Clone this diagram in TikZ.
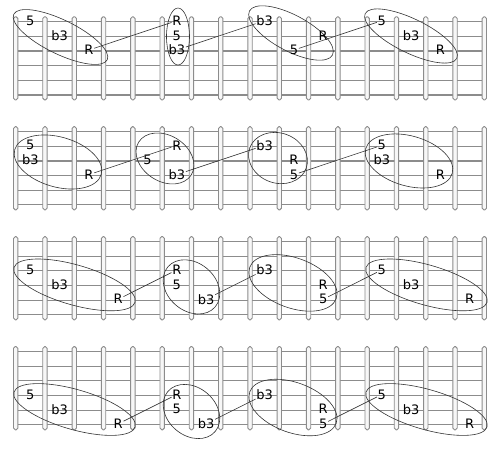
\documentclass[tikz,border=0pt]{standalone}
\usepackage{fontspec}
\setmainfont{DejaVu Sans}
\usetikzlibrary{shapes.geometric}

\definecolor{wire}{gray}{0.55}
\definecolor{metal}{gray}{0.97}
\definecolor{pen}{gray}{0.2}

\tikzset{
	string/.style={draw=wire, line width=1.1pt},
	fretbar/.style={draw=wire, fill=metal, line width=0.9pt, rounded corners=1.8pt},
	ring/.style={ellipse, draw=pen, line width=0.6pt, inner sep=0pt},
	note/.style={font=\fontsize{13pt}{15pt}\selectfont, inner sep=0.6pt, yshift=1pt},
	link/.style={draw=pen, line width=0.6pt}
}

% one neck: six strings, seventeen frets
\newcommand\neck{%
	\foreach \j in {0,...,5} \draw[string] (0,\j) -- (16,\j);
	\foreach \i in {0,...,16} \draw[fretbar] (\i-0.075,-0.34) rectangle (\i+0.075,5.34);
}

\begin{document}
\begin{tikzpicture}[x=29.29pt, y=-14.66pt]
	\useasboundingbox (-0.536,-1.480) rectangle (16.535,29.216);

	% neck 1
	\begin{scope}
		\neck
		\node[ring, minimum width=104pt, minimum height=34pt, rotate=-26] (A1) at (1.53,1.044) {};
		\node[ring, minimum width=23pt, minimum height=57pt] (A2) at (5.541,1.01) {};
		\node[ring, minimum width=94pt, minimum height=36pt, rotate=-28] (A3) at (9.399,0.771) {};
		\node[ring, minimum width=102pt, minimum height=34pt, rotate=-26] (A4) at (13.496,0.975) {};
		\node[note] (A1f) at (0.5,0) {5};
		\node[note] (A1t) at (1.5,1) {b3};
		\node[note] (A1r) at (2.5,2) {R};
		\node[note] (A2r) at (5.5,0) {R};
		\node[note] (A2f) at (5.5,1) {5};
		\node[note] (A2t) at (5.5,2) {b3};
		\node[note] (A3t) at (8.5,0) {b3};
		\node[note] (A3r) at (10.5,1) {R};
		\node[note] (A3f) at (9.5,2) {5};
		\node[note] (A4f) at (12.5,0) {5};
		\node[note] (A4t) at (13.5,1) {b3};
		\node[note] (A4r) at (14.5,2) {R};
		\draw[link] (A1r) -- (A2r) (A2t) -- (A3t) (A3f) -- (A4f);
	\end{scope}

	% neck 2
	\begin{scope}[shift={(0,7.5)}]
		\neck
		\node[ring, minimum width=90pt, minimum height=50pt, rotate=-16] (B1) at (1.444,2.07) {};
		\node[ring, minimum width=62pt, minimum height=46pt, rotate=-32] (B2) at (5.097,1.83) {};
		\node[ring, minimum width=60pt, minimum height=50pt, rotate=-20] (B3) at (8.955,1.80) {};
		\node[ring, minimum width=90pt, minimum height=50pt, rotate=-16] (B4) at (13.428,2.0) {};
		\node[note] (B1f) at (0.5,1) {5};
		\node[note] (B1t) at (0.5,2) {b3};
		\node[note] (B1r) at (2.5,3) {R};
		\node[note] (B2r) at (5.5,1) {R};
		\node[note] (B2f) at (4.5,2) {5};
		\node[note] (B2t) at (5.5,3) {b3};
		\node[note] (B3t) at (8.5,1) {b3};
		\node[note] (B3r) at (9.5,2) {R};
		\node[note] (B3f) at (9.5,3) {5};
		\node[note] (B4f) at (12.5,1) {5};
		\node[note] (B4t) at (12.5,2) {b3};
		\node[note] (B4r) at (14.5,3) {R};
		\draw[link] (B1r) -- (B2r) (B2t) -- (B3t) (B3f) -- (B4f);
	\end{scope}

	% neck 3
	\begin{scope}[shift={(0,15)}]
		\neck
		\node[ring, minimum width=126pt, minimum height=40pt, rotate=-16] (C1) at (2.008,2.954) {};
		\node[ring, minimum width=62pt, minimum height=48pt, rotate=-40] (C2) at (6.002,3.09) {};
		\node[ring, minimum width=92pt, minimum height=50pt, rotate=-20] (C3) at (9.467,2.818) {};
		\node[ring, minimum width=126pt, minimum height=40pt, rotate=-16] (C4) at (14.025,2.954) {};
		\node[note] (C1f) at (0.5,2) {5};
		\node[note] (C1t) at (1.5,3) {b3};
		\node[note] (C1r) at (3.5,4) {R};
		\node[note] (C2r) at (5.5,2) {R};
		\node[note] (C2f) at (5.5,3) {5};
		\node[note] (C2t) at (6.5,4) {b3};
		\node[note] (C3t) at (8.5,2) {b3};
		\node[note] (C3r) at (10.5,3) {R};
		\node[note] (C3f) at (10.5,4) {5};
		\node[note] (C4f) at (12.5,2) {5};
		\node[note] (C4t) at (13.5,3) {b3};
		\node[note] (C4r) at (15.5,4) {R};
		\draw[link] (C1r) -- (C2r) (C2t) -- (C3t) (C3f) -- (C4f);
	\end{scope}

	% neck 4
	\begin{scope}[shift={(0,22.5)}]
		\neck
		\node[ring, minimum width=126pt, minimum height=40pt, rotate=-16] (D1) at (2.008,3.954) {};
		\node[ring, minimum width=62pt, minimum height=48pt, rotate=-40] (D2) at (6.002,4.09) {};
		\node[ring, minimum width=92pt, minimum height=50pt, rotate=-20] (D3) at (9.467,3.818) {};
		\node[ring, minimum width=126pt, minimum height=40pt, rotate=-16] (D4) at (14.025,3.954) {};
		\node[note] (D1f) at (0.5,3) {5};
		\node[note] (D1t) at (1.5,4) {b3};
		\node[note] (D1r) at (3.5,5) {R};
		\node[note] (D2r) at (5.5,3) {R};
		\node[note] (D2f) at (5.5,4) {5};
		\node[note] (D2t) at (6.5,5) {b3};
		\node[note] (D3t) at (8.5,3) {b3};
		\node[note] (D3r) at (10.5,4) {R};
		\node[note] (D3f) at (10.5,5) {5};
		\node[note] (D4f) at (12.5,3) {5};
		\node[note] (D4t) at (13.5,4) {b3};
		\node[note] (D4r) at (15.5,5) {R};
		\draw[link] (D1r) -- (D2r) (D2t) -- (D3t) (D3f) -- (D4f);
	\end{scope}
\end{tikzpicture}
\end{document}
